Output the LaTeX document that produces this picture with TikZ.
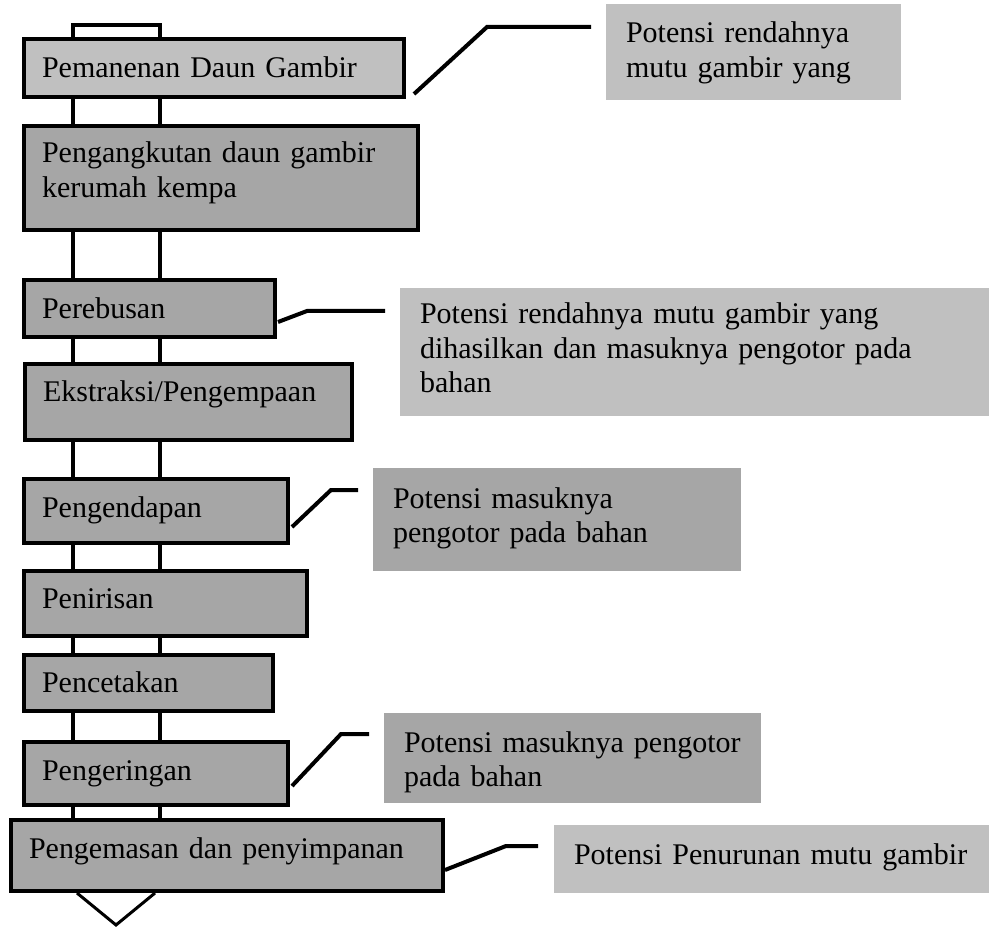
\documentclass[tikz,border=0pt]{standalone}
\usepackage{fontspec}
\setmainfont{Liberation Serif}
\definecolor{lightfill}{RGB}{192,192,192}
\definecolor{darkfill}{RGB}{166,166,166}
\begin{document}
\begin{tikzpicture}[x=1pt, y=-1pt,
        stepbox/.style={draw, line width=4pt, fill=darkfill, anchor=north west, align=left, inner xsep=18pt, inner ysep=0pt, text height=20pt, font=\fontsize{30}{34.5}\selectfont},
        notebox/.style={fill=lightfill, anchor=north west, align=left, inner xsep=20pt, inner ysep=0pt, outer sep=0pt, text height=20pt, font=\fontsize{30}{34.5}\selectfont},
        pipe/.style={line width=4pt},
        link/.style={line width=4pt},
        funnel/.style={line width=3pt}]
        \useasboundingbox (0, 0) rectangle (989, 928);
        \node[stepbox, fill=lightfill, minimum width=380pt, minimum height=58pt, text width=344pt, text depth=0pt] at(22, 37) (s1) {Pemanenan Daun Gambir};
        \node[stepbox, minimum width=394pt, minimum height=104pt, text width=358pt, text depth=50pt] at(22, 124) (s2) {Pengangkutan daun gambir\\kerumah kempa};
        \node[stepbox, minimum width=251pt, minimum height=57pt, text width=215pt, text depth=0pt] at(22, 278) (s3) {Perebusan};
        \node[stepbox, minimum width=327pt, minimum height=76pt, text width=291pt, text depth=20pt] at(23, 362) (s4) {Ekstraksi/Pengempaan};
        \node[stepbox, minimum width=264pt, minimum height=64pt, text width=228pt, text depth=8pt] at(22, 477) (s5) {Pengendapan};
        \node[stepbox, minimum width=283pt, minimum height=65pt, text width=247pt, text depth=11pt] at(22, 569) (s6) {Penirisan};
        \node[stepbox, minimum width=249pt, minimum height=56pt, text width=213pt, text depth=2pt] at(22, 653) (s7) {Pencetakan};
        \node[stepbox, minimum width=264pt, minimum height=63pt, text width=228pt, text depth=7pt] at(22, 740) (s8) {Pengeringan};
        \node[stepbox, minimum width=432pt, minimum height=71pt, text width=396pt, text depth=15pt] at(9, 818) (s9) {Pengemasan dan penyimpanan};
        \node[notebox, minimum width=295pt, minimum height=96pt, text width=255pt, text depth=38pt] at(606, 4) (n1) {Potensi rendahnya\\mutu gambir yang};
        \node[notebox, minimum width=589pt, minimum height=128pt, text width=549pt, text depth=76pt] at(400, 288) (n2) {Potensi rendahnya mutu gambir yang\\dihasilkan dan masuknya pengotor pada\\bahan};
        \node[notebox, fill=darkfill, minimum width=368pt, minimum height=103pt, text width=328pt, text depth=43pt] at(373, 468) (n3) {Potensi masuknya\\pengotor pada bahan};
        \node[notebox, fill=darkfill, minimum width=377pt, minimum height=90pt, text width=337pt, text depth=32pt] at(384, 713) (n4) {Potensi masuknya pengotor\\pada bahan};
        \node[notebox, minimum width=435pt, minimum height=68pt, text width=395pt, text depth=10pt] at(554, 825) (n5) {Potensi Penurunan mutu gambir};
        \draw[pipe] (s1.north -| 73,0) -- ++(0,-12) -| (s1.north -| 160,0);
        \foreach \a/\b in {s1/s2, s2/s3, s3/s4, s4/s5, s5/s6, s6/s7, s7/s8, s8/s9}
            \foreach \x in {73, 160}
                \draw[pipe] (\a.south -| \x,0) -- (\b.north -| \x,0);
        \draw[link] ([shift={(8,-5)}]s1.south east) -- ++(73,-67) -- ([shift={(-15,23)}]n1.north west);
        \draw[link] ([shift={(1,-17)}]s3.south east) -- ++(29,-11) -- ([shift={(-15,23)}]n2.north west);
        \draw[link] ([shift={(2,-18)}]s5.south east) -- ++(39,-37) -- ([shift={(-15,22)}]n3.north west);
        \draw[link] ([shift={(2,-21)}]s8.south east) -- ++(49,-52) -- ([shift={(-15,21)}]n4.north west);
        \draw[link] ([shift={(0,-23)}]s9.south east) -- ++(61,-24) -- ([shift={(-16,21)}]n5.north west);
        \coordinate (tip) at (116, 925);
        \draw[funnel] (s9.south -| 77,0) -- (tip) -- (s9.south -| 155,0);
    \end{tikzpicture}
\end{document}
